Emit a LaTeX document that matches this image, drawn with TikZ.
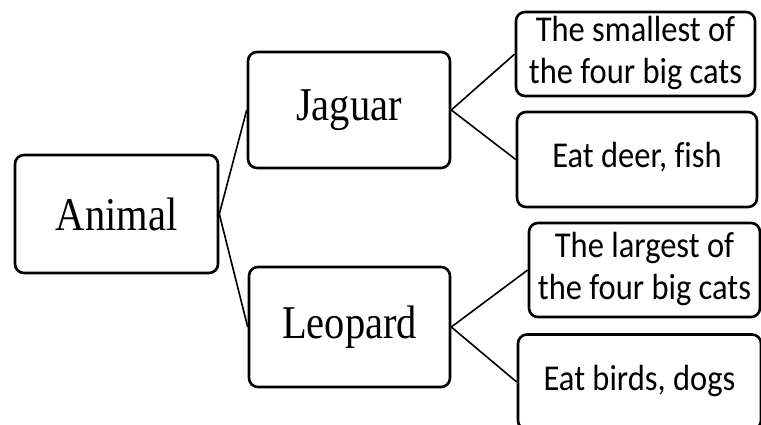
\documentclass[tikz,border=0pt]{standalone}
\usepackage{graphicx}
\usepackage{fontspec}
\setmainfont{Liberation Serif}
\newfontfamily\calib[Ligatures=NoCommon]{Carlito}
\newcommand{\tallword}[1]{\scalebox{1}[1.16]{#1}}
\newcommand{\tallsans}[1]{\scalebox{1}[1.12]{\begin{tabular}{@{}c@{}}#1\end{tabular}}}
\begin{document}
\begin{tikzpicture}[x=1pt,y=-1pt,
  box/.style={draw=black, line width=2.6pt, rounded corners=9pt, rectangle, inner sep=0pt, fill=white},
  serifbox/.style={box, font=\fontsize{40.5}{44}\selectfont},
  sansbox/.style={box, align=center, font=\calib\fontsize{32.5}{37.5}\selectfont},
  link/.style={draw=black, line width=1.6pt}]
\useasboundingbox (0,0) rectangle (761,424);
\clip (0,0) rectangle (761,424);
\fill[white] (0,0) rectangle (761,424);
\node[serifbox, minimum width=203pt, minimum height=118pt] (animal) at (116.5,214) {\tallword{Animal}};
\node[serifbox, minimum width=202pt, minimum height=116pt] (jaguar) at (349,110) {\tallword{Jaguar}};
\node[serifbox, minimum width=201pt, minimum height=120pt] (leopard) at (349.5,327) {\tallword{Leopard}};
\node[sansbox, minimum width=239pt, minimum height=82pt] (small) at (635.5,54) {\raisebox{-1.5pt}{\tallsans{The smallest of\\the four big cats}}};
\node[sansbox, minimum width=240pt, minimum height=95pt] (deer) at (637,159.5) {\raisebox{2pt}{\tallsans{Eat deer, fish}}};
\node[sansbox, minimum width=231pt, minimum height=94pt] (large) at (644.5,270) {\tallsans{The largest of\\the four big cats}};
\node[sansbox, minimum width=243pt, minimum height=95pt] (birds) at (639.5,382) {\raisebox{2pt}{\tallsans{Eat birds, dogs}}};
\draw[link] (animal.east) -- (jaguar.west);
\draw[link] (animal.east) -- (leopard.west);
\draw[link] (jaguar.east) -- (small.west);
\draw[link] (jaguar.east) -- (deer.west);
\draw[link] (leopard.east) -- (large.west);
\draw[link] (leopard.east) -- (birds.west);
\end{tikzpicture}
\end{document}
